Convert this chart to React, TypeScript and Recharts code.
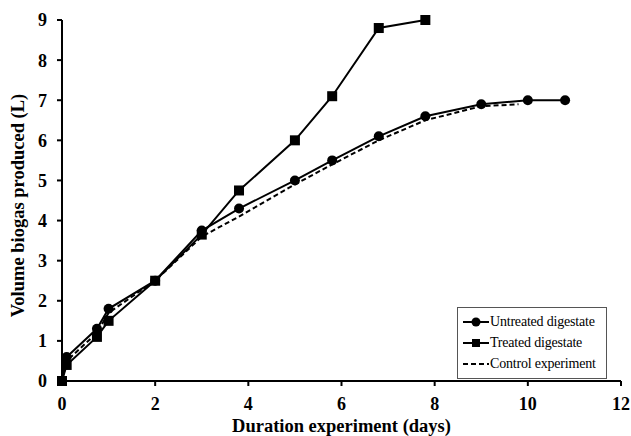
import React from 'react';
import { LineChart, Line, XAxis, YAxis } from 'recharts';

const untreatedX = [0, 0.1, 0.75, 1, 2, 3, 3.8, 5, 5.8, 6.8, 7.8, 9, 10, 10.8];
const untreatedY = [0, 0.6, 1.3, 1.8, 2.5, 3.75, 4.3, 5.0, 5.5, 6.1, 6.6, 6.9, 7.0, 7.0];
const treatedX = [0, 0.1, 0.75, 1, 2, 3, 3.8, 5, 5.8, 6.8, 7.8];
const treatedY = [0, 0.4, 1.1, 1.5, 2.5, 3.65, 4.75, 6.0, 7.1, 8.8, 9.0];
const controlX = [0, 0.1, 0.75, 1, 2, 3, 3.8, 5, 5.8, 6.8, 7.8, 9, 9.8];
const controlY = [0, 0.5, 1.2, 1.7, 2.5, 3.6, 4.1, 4.9, 5.4, 6.0, 6.5, 6.85, 6.9];

const xTicks = [0, 2, 4, 6, 8, 10, 12];
const yTicks = [0, 1, 2, 3, 4, 5, 6, 7, 8, 9];
const seriesNames = ['Untreated digestate', 'Treated digestate', 'Control experiment'];

const toRows = (xs: number[], ys: number[]) => xs.map((x, i) => ({ x, y: ys[i] }));
const untreated = toRows(untreatedX, untreatedY);
const treated = toRows(treatedX, treatedY);
const control = toRows(controlX, controlY);

const FONT = '"Liberation Serif", "Times New Roman", serif';

const SquareDot = (props: any) => {
  const { cx, cy, index } = props;
  if (cx == null || cy == null) return null;
  return <rect key={`sq-${index}`} x={cx - 5} y={cy - 5} width={10} height={10} fill="#000" />;
};

const LegendBox = () => (
  <div
    style={{
      position: 'absolute',
      left: 457,
      top: 307,
      width: 150,
      boxSizing: 'border-box',
      border: '1px solid #555',
      background: '#fff',
      padding: '3px 2px 4px 5px',
      fontFamily: FONT,
      fontSize: 14,
      color: '#000',
      lineHeight: '21px',
      letterSpacing: '-0.2px',
    }}
  >
    {seriesNames.map((name, i) => (
      <div key={name} style={{ display: 'flex', alignItems: 'center', whiteSpace: 'nowrap' }}>
        <svg width={26} height={12} style={{ marginRight: 1, flex: 'none' }}>
          {i === 2 ? (
            <line x1={0} y1={6} x2={26} y2={6} stroke="#000" strokeWidth={2} strokeDasharray="5 3" />
          ) : (
            <line x1={0} y1={6} x2={26} y2={6} stroke="#000" strokeWidth={2} />
          )}
          {i === 0 && <circle cx={13} cy={6} r={4.5} fill="#000" />}
          {i === 1 && <rect x={9} y={2} width={8} height={8} fill="#000" />}
        </svg>
        <span>{name}</span>
      </div>
    ))}
  </div>
);

export default function App() {
  return (
    <div style={{ position: 'absolute', left: 0, top: 0, width: 631, height: 436, background: '#fff' }}>
      <LineChart width={631} height={436} margin={{ top: 20, right: 10, left: 22, bottom: 25 }}>
        <XAxis
          type="number"
          dataKey="x"
          domain={[0, 12]}
          ticks={xTicks}
          height={30}
          stroke="#000"
          strokeWidth={2}
          tickSize={5}
          tickMargin={11}
          tick={{ fill: '#000', fontFamily: FONT, fontSize: 18, fontWeight: 'bold' }}
          label={{
            content: (p: any) => {
              const vb = p.viewBox || { x: 62, y: 381, width: 559, height: 30 };
              return (
                <text
                  x={vb.x + vb.width / 2}
                  y={vb.y + 51}
                  textAnchor="middle"
                  fontFamily={FONT}
                  fontSize={18.5}
                  fontWeight="bold"
                  fill="#000"
                >
                  Duration experiment (days)
                </text>
              );
            },
          }}
        />
        <YAxis
          type="number"
          dataKey="y"
          domain={[0, 9]}
          ticks={yTicks}
          width={40}
          stroke="#000"
          strokeWidth={2}
          tickSize={5}
          tickMargin={10}
          tick={{ fill: '#000', fontFamily: FONT, fontSize: 18, fontWeight: 'bold' }}
          label={{
            content: (p: any) => {
              const vb = p.viewBox || { x: 22, y: 20, width: 40, height: 361 };
              const cx = vb.x - 4;
              const cy = vb.y + vb.height / 2 + 5;
              return (
                <text
                  x={cx}
                  y={cy}
                  transform={`rotate(-90 ${cx} ${cy})`}
                  textAnchor="middle"
                  dominantBaseline="central"
                  fontFamily={FONT}
                  fontSize={18.5}
                  fontWeight="bold"
                  fill="#000"
                >
                  Volume biogas produced (L)
                </text>
              );
            },
          }}
        />
        <Line
          data={control}
          dataKey="y"
          name={seriesNames[2]}
          stroke="#000"
          strokeWidth={2}
          strokeDasharray="5 3"
          dot={false}
          activeDot={false}
          isAnimationActive={false}
        />
        <Line
          data={untreated}
          dataKey="y"
          name={seriesNames[0]}
          stroke="#000"
          strokeWidth={2}
          dot={{ r: 5, fill: '#000', stroke: '#000', strokeWidth: 0 }}
          activeDot={false}
          isAnimationActive={false}
        />
        <Line
          data={treated}
          dataKey="y"
          name={seriesNames[1]}
          stroke="#000"
          strokeWidth={2}
          dot={<SquareDot />}
          activeDot={false}
          isAnimationActive={false}
        />
      </LineChart>
      <LegendBox />
    </div>
  );
}
